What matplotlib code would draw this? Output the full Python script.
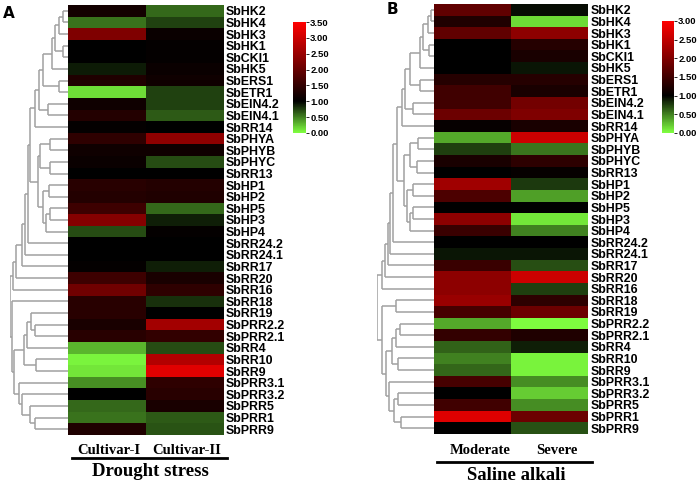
import numpy as np
import matplotlib
matplotlib.use('Agg')
import matplotlib.pyplot as plt
from matplotlib.colors import LinearSegmentedColormap, Normalize
from matplotlib.lines import Line2D

# 基因名称（两个面板顺序相同）
genes = ['SbHK2', 'SbHK4', 'SbHK3', 'SbHK1', 'SbCKI1', 'SbHK5', 'SbERS1', 'SbETR1',
         'SbEIN4.2', 'SbEIN4.1', 'SbRR14', 'SbPHYA', 'SbPHYB', 'SbPHYC', 'SbRR13',
         'SbHP1', 'SbHP2', 'SbHP5', 'SbHP3', 'SbHP4', 'SbRR24.2', 'SbRR24.1', 'SbRR17',
         'SbRR20', 'SbRR16', 'SbRR18', 'SbRR19', 'SbPRR2.2', 'SbPRR2.1', 'SbRR4',
         'SbRR10', 'SbRR9', 'SbPRR3.1', 'SbPRR3.2', 'SbPRR5', 'SbPRR1', 'SbPRR9']

# A: 干旱胁迫
cols_a = ['Cultivar-I', 'Cultivar-II']
cultivar1 = [1.2, 0.55, 2.25, 1.0, 1.0, 0.9, 1.3, 0.15, 1.15, 1.35, 1.05, 1.45, 1.15,
             1.1, 1.0, 1.4, 1.35, 1.6, 2.3, 0.7, 1.0, 1.0, 1.05, 1.6, 2.1, 1.4, 1.4,
             1.25, 1.4, 0.3, 0.05, 0.1, 0.45, 1.0, 0.6, 0.55, 1.3]
cultivar2 = [0.6, 0.75, 1.1, 1.05, 1.05, 1.1, 1.15, 0.75, 0.75, 0.65, 1.0, 2.4, 1.15,
             0.7, 1.0, 1.35, 1.3, 0.6, 0.88, 1.05, 1.0, 1.0, 0.88, 1.25, 1.45, 0.82, 1.0,
             2.6, 1.5, 0.7, 2.75, 3.2, 1.45, 1.4, 1.25, 0.65, 0.68]

# B: 盐碱胁迫
cols_b = ['Moderate', 'Severe']
moderate = [1.75, 1.25, 1.75, 1.0, 1.0, 1.0, 1.3, 1.5, 1.5, 1.85, 1.05, 0.35, 0.75,
            1.2, 1.0, 2.25, 1.6, 1.0, 2.1, 1.45, 1.0, 0.92, 1.45, 2.1, 2.1, 2.2, 1.55,
            0.35, 1.4, 0.62, 0.5, 0.6, 1.55, 1.0, 1.5, 2.75, 1.0]
severe = [0.95, 0.15, 2.1, 1.3, 1.2, 0.92, 1.3, 1.2, 1.9, 2.0, 1.2, 2.6, 0.55,
          1.35, 1.05, 0.78, 0.38, 1.0, 0.1, 0.5, 1.0, 0.92, 0.7, 2.6, 0.75, 1.35, 1.85,
          0.02, 1.25, 0.88, 0.05, 0.05, 0.45, 0.2, 0.45, 1.85, 0.68]

# 聚类树 (左, 右, 高度)，叶子为行号
ta = ((0, 1, 5), 2, 9)
ta = (ta, (3, 4, 5), 13)
ta = (ta, 5, 16)
ta = (ta, (6, 7, 9), 25)
ta = (ta, (8, 9, 20), 29)
ta = (ta, 10, 33)
mid_a = (((11, 12, 18), (13, 14, 18), 28), ((15, 16, 19), ((17, 18, 18), 19, 22), 25), 30)
ta = (ta, mid_a, 38)
ta = (ta, 20, 40)
ta = (ta, 21, 43)
ta = (ta, 22, 46)
ta = (ta, 23, 52)
ta = (ta, 24, 55)
la1 = (((26, (27, 28, 33), 37), 29, 41), (30, 31, 32), 44)
la2 = (32, (33, (34, (35, 36, 33), 38), 46), 49)
tree_a = (ta, (25, (la1, la2, 54), 56), 58)

tb = ((0, 1, 3), 2, 6)
tb = (tb, (3, 4, 5), 11)
tb = (tb, 5, 14)
tb = (tb, (6, 7, 14), 24)
tb = (tb, (8, 9, 21), 29)
tb = (tb, 10, 32)
mid_b = (((11, 12, 16), (13, 14, 17), 24), ((15, 16, 21), ((17, 18, 21), 19, 24), 27), 30)
tb = (tb, mid_b, 37)
tb = (tb, 20, 41)
tb = (tb, 21, 44)
tb = (tb, 22, 46)
tb = (tb, 23, 49)
tb = (tb, 24, 52)
lb1 = (((27, 28, 34), 29, 38), (30, 31, 36), 42)
lb2 = (32, ((33, 34, 36), (35, 36, 33), 40), 45)
tree_b = (tb, ((25, 26, 38), (lb1, lb2, 48), 52), 57)

W, H = 698, 484
fig = plt.figure(figsize=(W / 100, H / 100), dpi=100)


def box(x0, y0, x1, y1):
    # 像素坐标 -> figure 坐标
    return [x0 / W, 1 - y1 / H, (x1 - x0) / W, (y1 - y0) / H]


def make_cmap(vmax):
    c = 1.0 / vmax
    return LinearSegmentedColormap.from_list(
        'gkr', [(0, (0.5, 1.0, 0.25)), (c, (0, 0, 0)), (1, (1.0, 0, 0))])


def draw_tree(ax, node):
    # 返回 (y, h)
    if isinstance(node, int):
        return node, 0.0
    l, r, h = node
    yl, hl = draw_tree(ax, l)
    yr, hr = draw_tree(ax, r)
    kw = dict(color='#a0a0a0', lw=1.1, solid_capstyle='butt')
    ax.plot([hl, h], [yl, yl], **kw)
    ax.plot([hr, h], [yr, yr], **kw)
    ax.plot([h, h], [yl, yr], **kw)
    return (yl + yr) / 2, h


def panel(hm_box, dn_box, cb_box, data, tree, vmax, ticks):
    ax = fig.add_axes(box(*hm_box))
    cmap = make_cmap(vmax)
    im = ax.imshow(np.array(data).T, cmap=cmap, norm=Normalize(0, vmax),
                   aspect='auto', interpolation='nearest')
    ax.set_xticks([])
    ax.yaxis.tick_right()
    ax.set_yticks(range(len(genes)))
    ax.set_yticklabels(genes, fontsize=8.9, fontweight='bold', family='Liberation Sans')
    ax.tick_params(axis='y', length=0, pad=2)
    for s in ax.spines.values():
        s.set_visible(False)

    dax = fig.add_axes(box(*dn_box))
    draw_tree(dax, tree)
    dax.set_xlim(tree[2], 0)
    dax.set_ylim(len(genes) - 0.5, -0.5)
    dax.axis('off')

    cax = fig.add_axes(box(*cb_box))
    cb = fig.colorbar(im, cax=cax, ticks=ticks)
    cb.outline.set_visible(False)
    cb.ax.set_yticklabels(['%.2f' % t for t in ticks], fontsize=6.8, fontweight='bold',
                          family='Liberation Sans')
    cb.ax.tick_params(length=2, width=0.6, pad=1)
    return ax


panel((68, 5, 223, 435), (10, 5, 68, 435), (293, 22, 306, 133),
      [cultivar1, cultivar2], tree_a, 3.5, np.arange(0, 3.51, 0.5))
panel((434, 4, 588, 434), (377, 4, 434, 434), (662, 21, 674, 133),
      [moderate, severe], tree_b, 3.0, np.arange(0, 3.01, 0.5))

serif = 'Liberation Serif'
fig.text(9 / W, 1 - 13 / H, 'A', fontsize=11, fontweight='bold', ha='center', va='center')
fig.text(392 / W, 1 - 9 / H, 'B', fontsize=11, fontweight='bold', ha='center', va='center')

fig.text(109 / W, 1 - 450 / H, cols_a[0], family=serif, fontsize=10.5, fontweight='bold', ha='center', va='center')
fig.text(187 / W, 1 - 450 / H, cols_a[1], family=serif, fontsize=10.5, fontweight='bold', ha='center', va='center')
fig.add_artist(Line2D([72 / W, 227 / W], [1 - 458 / H] * 2, color='black', lw=2, transform=fig.transFigure))
fig.text(150 / W, 1 - 471 / H, 'Drought stress', family=serif, fontsize=13.5, fontweight='bold', ha='center', va='center')

fig.text(480 / W, 1 - 450 / H, cols_b[0], family=serif, fontsize=10.5, fontweight='bold', ha='center', va='center')
fig.text(557 / W, 1 - 450 / H, cols_b[1], family=serif, fontsize=10.5, fontweight='bold', ha='center', va='center')
fig.add_artist(Line2D([437 / W, 592 / W], [1 - 462 / H] * 2, color='black', lw=2, transform=fig.transFigure))
fig.text(516 / W, 1 - 476 / H, 'Saline alkali', family=serif, fontsize=13.5, fontweight='bold', ha='center', va='center')

fig.savefig('out.png', dpi=100)
